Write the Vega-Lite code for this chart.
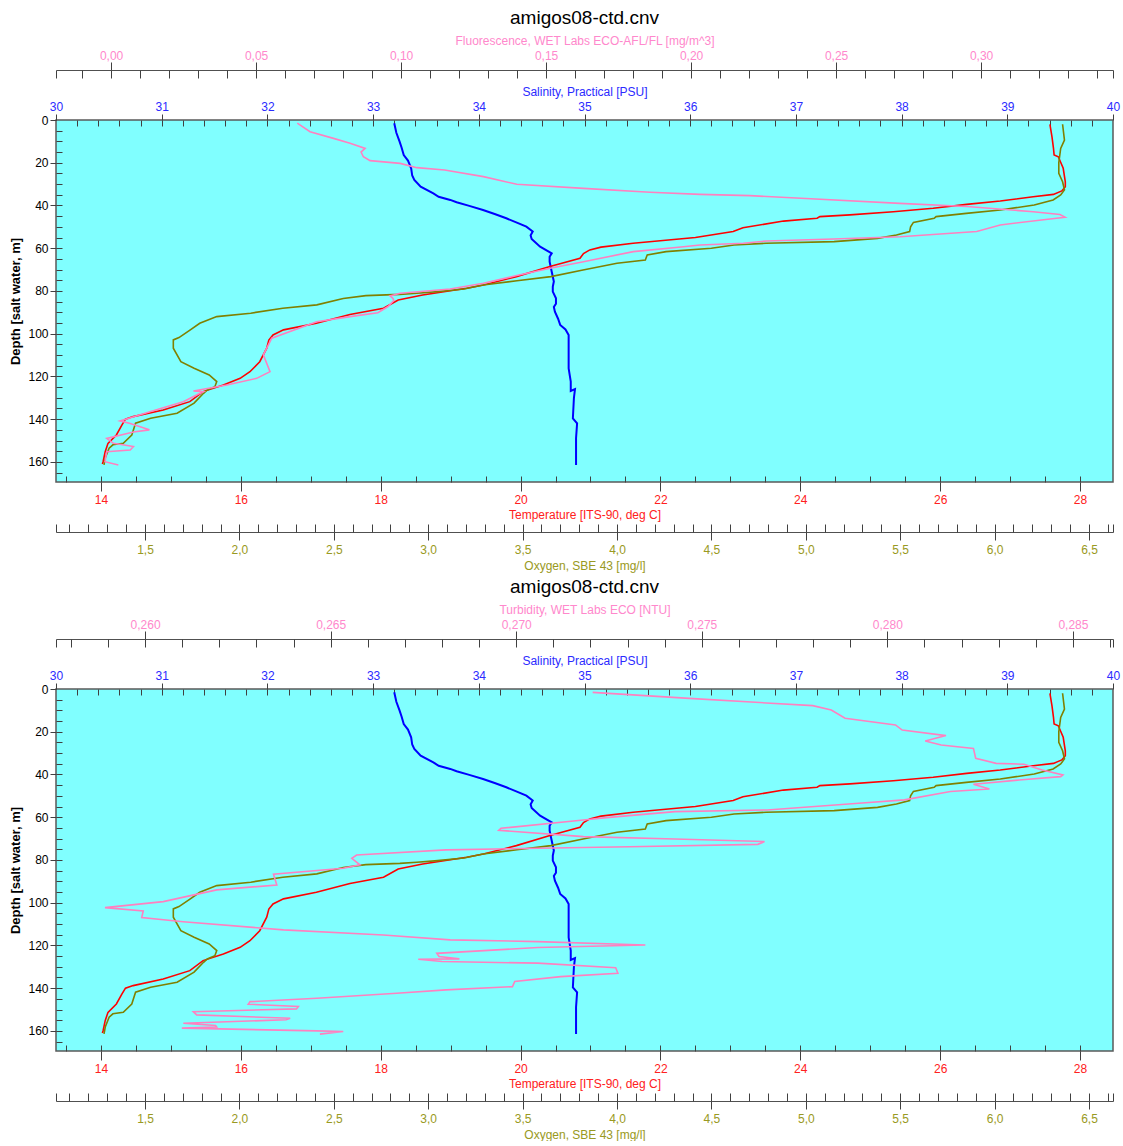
{
"$schema": "https://vega.github.io/schema/vega-lite/v6.json",
"padding": {"left": 9, "top": 8, "right": 5, "bottom": 0},
"spacing": 5,
"config": {
  "font": "Liberation Sans",
  "view": {"fill": "#80ffff", "stroke": "#5a5a5a", "strokeWidth": 1.5},
  "axis": {"grid": false, "labelFlush": false, "labelOverlap": false, "labelFont": "Liberation Sans", "titleFont": "Liberation Sans", "labelFontSize": 12, "titleFontSize": 12, "titleFontWeight": "normal", "tickColor": "#404040", "domainColor": "#505050", "tickWidth": 1, "domainWidth": 1.2},
  "title": {"font": "Liberation Sans", "fontSize": 19, "fontWeight": "normal", "color": "#000000", "offset": 6, "anchor": "middle"}
},
"datasets": {
  "sal": [
    {"i":0,"d":1.5,"v":33.20},{"i":1,"d":6,"v":33.22},{"i":2,"d":10,"v":33.25},{"i":3,"d":13,"v":33.27},{"i":4,"d":16.4,"v":33.29},{"i":5,"d":19,"v":33.33},{"i":6,"d":22.6,"v":33.36},{"i":7,"d":26,"v":33.37},{"i":8,"d":28,"v":33.39},{"i":9,"d":31.2,"v":33.45},{"i":10,"d":34.3,"v":33.57},{"i":11,"d":35.9,"v":33.62},{"i":12,"d":37.4,"v":33.73},{"i":13,"d":38.5,"v":33.79},{"i":14,"d":40.2,"v":33.91},{"i":15,"d":42.1,"v":34.04},{"i":16,"d":44,"v":34.15},{"i":17,"d":46,"v":34.26},{"i":18,"d":48,"v":34.36},{"i":19,"d":49.9,"v":34.45},{"i":20,"d":52.2,"v":34.51},{"i":21,"d":54,"v":34.49},{"i":22,"d":55.7,"v":34.50},{"i":23,"d":59.3,"v":34.58},{"i":24,"d":62.4,"v":34.69},{"i":25,"d":64,"v":34.67},{"i":26,"d":66.3,"v":34.67},{"i":27,"d":71,"v":34.69},{"i":28,"d":75.6,"v":34.71},{"i":29,"d":78,"v":34.70},{"i":30,"d":80.3,"v":34.70},{"i":31,"d":83.4,"v":34.73},{"i":32,"d":86,"v":34.73},{"i":33,"d":87.5,"v":34.71},{"i":34,"d":89.7,"v":34.72},{"i":35,"d":93,"v":34.75},{"i":36,"d":95.9,"v":34.77},{"i":37,"d":98,"v":34.82},{"i":38,"d":100.6,"v":34.85},{"i":39,"d":110,"v":34.85},{"i":40,"d":116.2,"v":34.85},{"i":41,"d":122.4,"v":34.87},{"i":42,"d":126.8,"v":34.87},{"i":43,"d":125.9,"v":34.91},{"i":44,"d":130,"v":34.90},{"i":45,"d":139.6,"v":34.89},{"i":46,"d":141.9,"v":34.93},{"i":47,"d":148.9,"v":34.92},{"i":48,"d":161.4,"v":34.92}
  ],
  "temp": [
    {"i":0,"d":2,"v":27.57},{"i":1,"d":8,"v":27.60},{"i":2,"d":13,"v":27.62},{"i":3,"d":16.4,"v":27.63},{"i":4,"d":17.2,"v":27.69},{"i":5,"d":22.6,"v":27.76},{"i":6,"d":28.9,"v":27.79},{"i":7,"d":31.2,"v":27.79},{"i":8,"d":33.2,"v":27.74},{"i":9,"d":34.8,"v":27.62},{"i":10,"d":35.9,"v":27.33},{"i":11,"d":37.9,"v":26.86},{"i":12,"d":39.5,"v":26.38},{"i":13,"d":41.3,"v":25.90},{"i":14,"d":42.9,"v":25.33},{"i":15,"d":44.4,"v":24.71},{"i":16,"d":45.2,"v":24.28},{"i":17,"d":46,"v":24.24},{"i":18,"d":47.3,"v":23.76},{"i":19,"d":50.4,"v":23.18},{"i":20,"d":52.2,"v":23.04},{"i":21,"d":55,"v":22.50},{"i":22,"d":57.7,"v":21.61},{"i":23,"d":59.5,"v":21.15},{"i":24,"d":60.8,"v":20.99},{"i":25,"d":62.5,"v":20.90},{"i":26,"d":64.7,"v":20.85},{"i":27,"d":68.6,"v":20.42},{"i":28,"d":73.3,"v":19.94},{"i":29,"d":77.2,"v":19.47},{"i":30,"d":78.7,"v":19.23},{"i":31,"d":81.9,"v":18.60},{"i":32,"d":84.2,"v":18.25},{"i":33,"d":88.1,"v":18.04},{"i":34,"d":91,"v":17.56},{"i":35,"d":95.1,"v":17.08},{"i":36,"d":98.2,"v":16.61},{"i":37,"d":100.6,"v":16.46},{"i":38,"d":103,"v":16.40},{"i":39,"d":106.8,"v":16.37},{"i":40,"d":113.1,"v":16.27},{"i":41,"d":117.8,"v":16.13},{"i":42,"d":120.9,"v":15.99},{"i":43,"d":124,"v":15.75},{"i":44,"d":127.1,"v":15.46},{"i":45,"d":131.8,"v":15.27},{"i":46,"d":135.7,"v":14.89},{"i":47,"d":138.8,"v":14.46},{"i":48,"d":140,"v":14.35},{"i":49,"d":142.7,"v":14.30},{"i":50,"d":147.4,"v":14.22},{"i":51,"d":151.3,"v":14.10},{"i":52,"d":155.2,"v":14.06},{"i":53,"d":159.9,"v":14.03},{"i":54,"d":161,"v":14.02}
  ],
  "oxy": [
    {"i":0,"d":2,"v":6.36},{"i":1,"d":9.4,"v":6.37},{"i":2,"d":13.3,"v":6.35},{"i":3,"d":20,"v":6.34},{"i":4,"d":24.9,"v":6.34},{"i":5,"d":28.9,"v":6.36},{"i":6,"d":32.7,"v":6.37},{"i":7,"d":35.1,"v":6.35},{"i":8,"d":37.4,"v":6.31},{"i":9,"d":39.8,"v":6.21},{"i":10,"d":42.1,"v":6.03},{"i":11,"d":43.7,"v":5.85},{"i":12,"d":45.2,"v":5.69},{"i":13,"d":46,"v":5.68},{"i":14,"d":47.9,"v":5.57},{"i":15,"d":50,"v":5.555},{"i":16,"d":52.2,"v":5.55},{"i":17,"d":53.8,"v":5.48},{"i":18,"d":55.4,"v":5.38},{"i":19,"d":56.9,"v":5.15},{"i":20,"d":57.7,"v":4.79},{"i":21,"d":58.5,"v":4.62},{"i":22,"d":60,"v":4.50},{"i":23,"d":61.6,"v":4.26},{"i":24,"d":63.2,"v":4.16},{"i":25,"d":65.5,"v":4.15},{"i":26,"d":67,"v":4.00},{"i":27,"d":70.2,"v":3.82},{"i":28,"d":73.3,"v":3.65},{"i":29,"d":75.2,"v":3.47},{"i":30,"d":77.2,"v":3.29},{"i":31,"d":79.1,"v":3.19},{"i":32,"d":80.3,"v":3.05},{"i":33,"d":81.1,"v":2.94},{"i":34,"d":81.6,"v":2.85},{"i":35,"d":82.2,"v":2.67},{"i":36,"d":83.5,"v":2.55},{"i":37,"d":86.5,"v":2.41},{"i":38,"d":88.1,"v":2.23},{"i":39,"d":90.4,"v":2.06},{"i":40,"d":92,"v":1.88},{"i":41,"d":95.1,"v":1.79},{"i":42,"d":98.2,"v":1.74},{"i":43,"d":101.8,"v":1.68},{"i":44,"d":102.9,"v":1.65},{"i":45,"d":106.8,"v":1.65},{"i":46,"d":113.1,"v":1.69},{"i":47,"d":116.2,"v":1.76},{"i":48,"d":119.3,"v":1.84},{"i":49,"d":122.4,"v":1.88},{"i":50,"d":124.8,"v":1.87},{"i":51,"d":126.3,"v":1.83},{"i":52,"d":127.9,"v":1.81},{"i":53,"d":132.5,"v":1.76},{"i":54,"d":137.2,"v":1.67},{"i":55,"d":139.6,"v":1.53},{"i":56,"d":141.9,"v":1.45},{"i":57,"d":147.4,"v":1.43},{"i":58,"d":151.3,"v":1.385},{"i":59,"d":152,"v":1.33},{"i":60,"d":153.6,"v":1.31},{"i":61,"d":158,"v":1.29},{"i":62,"d":161.4,"v":1.283}
  ],
  "fluor": [
    {"i":0,"d":1.5,"v":0.0642},{"i":1,"d":5.5,"v":0.0686},{"i":2,"d":8.6,"v":0.0767},{"i":3,"d":10.9,"v":0.0824},{"i":4,"d":13.3,"v":0.0876},{"i":5,"d":15,"v":0.0862},{"i":6,"d":17.2,"v":0.0870},{"i":7,"d":19,"v":0.0893},{"i":8,"d":20.3,"v":0.0997},{"i":9,"d":22.3,"v":0.1054},{"i":10,"d":23.4,"v":0.1150},{"i":11,"d":26.5,"v":0.1284},{"i":12,"d":30.1,"v":0.1399},{"i":13,"d":32,"v":0.1629},{"i":14,"d":33.8,"v":0.1859},{"i":15,"d":34.8,"v":0.2031},{"i":16,"d":35.4,"v":0.2203},{"i":17,"d":36.6,"v":0.2379},{"i":18,"d":39,"v":0.2720},{"i":19,"d":40.5,"v":0.2951},{"i":20,"d":42.9,"v":0.3180},{"i":21,"d":44.2,"v":0.3272},{"i":22,"d":45.5,"v":0.3290},{"i":23,"d":46.3,"v":0.3238},{"i":24,"d":49.1,"v":0.3066},{"i":25,"d":52.2,"v":0.2985},{"i":26,"d":54.6,"v":0.2721},{"i":27,"d":55.7,"v":0.2490},{"i":28,"d":56.6,"v":0.2261},{"i":29,"d":57.7,"v":0.2180},{"i":30,"d":58.5,"v":0.2031},{"i":31,"d":59.3,"v":0.1974},{"i":32,"d":61.6,"v":0.1801},{"i":33,"d":66.3,"v":0.1629},{"i":34,"d":69.4,"v":0.1514},{"i":35,"d":72.8,"v":0.1399},{"i":36,"d":76.4,"v":0.1284},{"i":37,"d":79.1,"v":0.1169},{"i":38,"d":81.1,"v":0.0997},{"i":39,"d":82.3,"v":0.0962},{"i":40,"d":83.5,"v":0.0972},{"i":41,"d":84.5,"v":0.0975},{"i":42,"d":87.3,"v":0.0955},{"i":43,"d":90.2,"v":0.0920},{"i":44,"d":92,"v":0.0824},{"i":45,"d":94.4,"v":0.0709},{"i":46,"d":102.1,"v":0.0554},{"i":47,"d":109.9,"v":0.0525},{"i":48,"d":117.8,"v":0.0548},{"i":49,"d":120.9,"v":0.0502},{"i":50,"d":124,"v":0.0399},{"i":51,"d":126.8,"v":0.0284},{"i":52,"d":127.2,"v":0.0318},{"i":53,"d":128.3,"v":0.0300},{"i":54,"d":131.8,"v":0.0249},{"i":55,"d":136.5,"v":0.0134},{"i":56,"d":140.8,"v":0.0031},{"i":57,"d":142,"v":0.0066},{"i":58,"d":145,"v":0.0132},{"i":59,"d":146,"v":0.0077},{"i":60,"d":149,"v":-0.0015},{"i":61,"d":151.3,"v":0.0008},{"i":62,"d":152.8,"v":0.0077},{"i":63,"d":154.4,"v":0.0066},{"i":64,"d":155.2,"v":-0.0015},{"i":65,"d":159.9,"v":-0.0021},{"i":66,"d":161.4,"v":0.0025}
  ],
  "turb": [
    {"i":0,"d":1.6,"v":0.27206},{"i":1,"d":4.4,"v":0.27466},{"i":2,"d":7.8,"v":0.27799},{"i":3,"d":9.8,"v":0.27849},{"i":4,"d":13.7,"v":0.27886},{"i":5,"d":16.8,"v":0.28022},{"i":6,"d":19.2,"v":0.28040},{"i":7,"d":21.8,"v":0.28158},{"i":8,"d":24.3,"v":0.28102},{"i":9,"d":26.2,"v":0.28145},{"i":10,"d":27.8,"v":0.28232},{"i":11,"d":32.4,"v":0.28238},{"i":12,"d":34.8,"v":0.28293},{"i":13,"d":35.2,"v":0.28368},{"i":14,"d":37.9,"v":0.28417},{"i":15,"d":40.2,"v":0.28473},{"i":16,"d":41,"v":0.28467},{"i":17,"d":42.6,"v":0.28355},{"i":18,"d":44.6,"v":0.28232},{"i":19,"d":46.8,"v":0.28275},{"i":20,"d":48,"v":0.28170},{"i":21,"d":51.9,"v":0.28046},{"i":22,"d":53.5,"v":0.27923},{"i":23,"d":56.6,"v":0.27676},{"i":24,"d":57.4,"v":0.27428},{"i":25,"d":60.2,"v":0.27243},{"i":26,"d":61.3,"v":0.27181},{"i":27,"d":65.2,"v":0.26959},{"i":28,"d":66.1,"v":0.26953},{"i":29,"d":69.1,"v":0.27181},{"i":30,"d":70.2,"v":0.27428},{"i":31,"d":71.4,"v":0.27669},{"i":32,"d":72.7,"v":0.27651},{"i":33,"d":73.8,"v":0.27305},{"i":34,"d":74.5,"v":0.27058},{"i":35,"d":75.3,"v":0.26811},{"i":36,"d":77.7,"v":0.26570},{"i":37,"d":79.2,"v":0.26557},{"i":38,"d":82.3,"v":0.26579},{"i":39,"d":83.9,"v":0.26534},{"i":40,"d":86.7,"v":0.26346},{"i":41,"d":91.7,"v":0.26355},{"i":42,"d":94,"v":0.26193},{"i":43,"d":99.5,"v":0.26049},{"i":44,"d":102.3,"v":0.25892},{"i":45,"d":103.9,"v":0.25995},{"i":46,"d":107,"v":0.25991},{"i":47,"d":108.9,"v":0.26103},{"i":48,"d":112.7,"v":0.26373},{"i":49,"d":115.1,"v":0.26642},{"i":50,"d":117.4,"v":0.26822},{"i":51,"d":118.2,"v":0.27058},{"i":52,"d":119.8,"v":0.27348},{"i":53,"d":121,"v":0.27058},{"i":54,"d":123.7,"v":0.26786},{"i":55,"d":125.2,"v":0.26792},{"i":56,"d":126.3,"v":0.26847},{"i":57,"d":126.5,"v":0.26736},{"i":58,"d":127.5,"v":0.26800},{"i":59,"d":128.3,"v":0.27058},{"i":60,"d":130.4,"v":0.27268},{"i":61,"d":133,"v":0.27274},{"i":62,"d":134.6,"v":0.27120},{"i":63,"d":136.9,"v":0.26996},{"i":64,"d":139.3,"v":0.26990},{"i":65,"d":140.8,"v":0.26811},{"i":66,"d":142.4,"v":0.26678},{"i":67,"d":144.7,"v":0.26463},{"i":68,"d":146.3,"v":0.26283},{"i":69,"d":147.5,"v":0.26278},{"i":70,"d":148.6,"v":0.26413},{"i":71,"d":149.7,"v":0.26408},{"i":72,"d":151,"v":0.26130},{"i":73,"d":152.5,"v":0.26139},{"i":74,"d":154.1,"v":0.26391},{"i":75,"d":154.8,"v":0.26380},{"i":76,"d":156.4,"v":0.26103},{"i":77,"d":157.5,"v":0.26190},{"i":78,"d":158.2,"v":0.26193},{"i":79,"d":158.7,"v":0.26099},{"i":80,"d":160,"v":0.26463},{"i":81,"d":160.3,"v":0.26534},{"i":82,"d":161.5,"v":0.26471}
  ]
},
"vconcat": [
{
  "title": "amigos08-ctd.cnv",
  "width": 1057, "height": 362,
  "resolve": {"scale": {"x": "independent"}, "axis": {"x": "independent", "y": "independent"}},
  "layer": [
    {"resolve": {"axis": {"x": "independent", "y": "independent"}},
     "layer": [
      {"data": {"name": "sal"}, "mark": {"type": "line", "color": "#0000ff", "strokeWidth": 2},
       "encoding": {
        "x": {"field": "v", "type": "quantitative", "scale": {"domain": [30, 40], "nice": false, "zero": false},
              "axis": {"orient": "top", "values": [30,31,32,33,34,35,36,37,38,39,40], "tickSize": 6, "labelPadding": 1, "labelColor": "#2b2bff", "domain": false, "title": "Salinity, Practical [PSU]", "titleColor": "#2b2bff", "titlePadding": 2}},
        "y": {"field": "d", "type": "quantitative", "scale": {"domain": [0, 169.4], "reverse": true, "nice": false, "zero": false},
              "axis": {"orient": "left", "values": [0,20,40,60,80,100,120,140,160], "tickSize": 6, "labelPadding": 2, "domain": false, "labelColor": "#000000", "title": "Depth [salt water, m]", "titleFontWeight": "bold", "titleFontSize": 13, "titleColor": "#000000", "titlePadding": 5}},
        "order": {"field": "i", "type": "quantitative"}}},
      {"data": {"name": "sal"}, "mark": {"type": "point", "opacity": 0},
       "encoding": {
        "x": {"field": "v", "type": "quantitative", "scale": {"domain": [30, 40], "nice": false, "zero": false},
              "axis": {"orient": "top", "offset": -6, "values": [30.2,30.4,30.6,30.8,31,31.2,31.4,31.6,31.8,32,32.2,32.4,32.6,32.8,33,33.2,33.4,33.6,33.8,34,34.2,34.4,34.6,34.8,35,35.2,35.4,35.6,35.8,36,36.2,36.4,36.6,36.8,37,37.2,37.4,37.6,37.8,38,38.2,38.4,38.6,38.8,39,39.2,39.4,39.6,39.8], "tickSize": 6, "labels": false, "domain": false, "title": null}},
        "y": {"field": "d", "type": "quantitative", "scale": {"domain": [0, 169.4], "reverse": true, "nice": false, "zero": false},
              "axis": {"orient": "left", "offset": -6, "values": [5,10,15,20,25,30,35,40,45,50,55,60,65,70,75,80,85,90,95,100,105,110,115,120,125,130,135,140,145,150,155,160,165], "tickSize": 6, "labels": false, "domain": false, "title": null}}}}
     ]},
    {"resolve": {"axis": {"x": "independent"}},
     "layer": [
      {"data": {"name": "temp"}, "mark": {"type": "line", "color": "#ff0000", "strokeWidth": 1.6},
       "encoding": {
        "x": {"field": "v", "type": "quantitative", "scale": {"domain": [13.3565, 28.472], "nice": false, "zero": false},
              "axis": {"orient": "bottom", "values": [14,16,18,20,22,24,26,28], "tickSize": 9, "labelPadding": 3, "labelColor": "#ff2020", "domain": false, "title": "Temperature [ITS-90, deg C]", "titleColor": "#ff2020", "titlePadding": 4}},
        "y": {"field": "d", "type": "quantitative", "axis": null},
        "order": {"field": "i", "type": "quantitative"}}},
      {"data": {"name": "temp"}, "mark": {"type": "point", "opacity": 0},
       "encoding": {
        "x": {"field": "v", "type": "quantitative", "scale": {"domain": [13.3565, 28.472], "nice": false, "zero": false},
              "axis": {"orient": "bottom", "offset": -6, "values": [13.5,14,14.5,15,15.5,16,16.5,17,17.5,18,18.5,19,19.5,20,20.5,21,21.5,22,22.5,23,23.5,24,24.5,25,25.5,26,26.5,27,27.5,28], "tickSize": 6, "labels": false, "domain": false, "title": null}},
        "y": {"field": "d", "type": "quantitative", "axis": null}}}
     ]},
    {"resolve": {"axis": {"x": "independent"}},
     "layer": [
      {"data": {"name": "oxy"}, "mark": {"type": "line", "color": "#808000", "strokeWidth": 1.6},
       "encoding": {
        "x": {"field": "v", "type": "quantitative", "scale": {"domain": [1.0286, 6.6271], "nice": false, "zero": false},
              "axis": {"orient": "bottom", "offset": 50, "values": [1.5,2,2.5,3,3.5,4,4.5,5,5.5,6,6.5], "tickSize": 8, "labelPadding": 4, "labelExpr": "replace(format(datum.value, '.1f'), '.', ',')", "labelColor": "#999922", "domain": true, "title": "Oxygen, SBE 43 [mg/l]", "titleColor": "#999922", "titlePadding": 5}},
        "y": {"field": "d", "type": "quantitative", "axis": null},
        "order": {"field": "i", "type": "quantitative"}}},
      {"data": {"name": "oxy"}, "mark": {"type": "point", "opacity": 0},
       "encoding": {
        "x": {"field": "v", "type": "quantitative", "scale": {"domain": [1.0286, 6.6271], "nice": false, "zero": false},
              "axis": {"orient": "bottom", "offset": 42, "values": [1.0286,1.1,1.2,1.3,1.4,1.5,1.6,1.7,1.8,1.9,2,2.1,2.2,2.3,2.4,2.5,2.6,2.7,2.8,2.9,3,3.1,3.2,3.3,3.4,3.5,3.6,3.7,3.8,3.9,4,4.1,4.2,4.3,4.4,4.5,4.6,4.7,4.8,4.9,5,5.1,5.2,5.3,5.4,5.5,5.6,5.7,5.8,5.9,6,6.1,6.2,6.3,6.4,6.5,6.6,6.6271], "tickSize": 8, "labels": false, "domain": false, "title": null}},
        "y": {"field": "d", "type": "quantitative", "axis": null}}}
     ]},
    {"resolve": {"axis": {"x": "independent"}},
     "layer": [
      {"data": {"name": "fluor"}, "mark": {"type": "line", "color": "#ff80c0", "strokeWidth": 1.6},
       "encoding": {
        "x": {"field": "v", "type": "quantitative", "scale": {"domain": [-0.019, 0.3455], "nice": false, "zero": false},
              "axis": {"orient": "top", "offset": 50, "values": [0,0.05,0.1,0.15,0.2,0.25,0.3], "tickSize": 8, "labelPadding": 0, "labelExpr": "replace(format(datum.value, '.2f'), '.', ',')", "labelColor": "#ff88cc", "domain": true, "title": "Fluorescence, WET Labs ECO-AFL/FL [mg/m^3]", "titleColor": "#ff88cc", "titlePadding": 2}},
        "y": {"field": "d", "type": "quantitative", "axis": null},
        "order": {"field": "i", "type": "quantitative"}}},
      {"data": {"name": "fluor"}, "mark": {"type": "point", "opacity": 0},
       "encoding": {
        "x": {"field": "v", "type": "quantitative", "scale": {"domain": [-0.019, 0.3455], "nice": false, "zero": false},
              "axis": {"orient": "top", "offset": 42, "values": [-0.019,-0.01,0,0.01,0.02,0.03,0.04,0.05,0.06,0.07,0.08,0.09,0.1,0.11,0.12,0.13,0.14,0.15,0.16,0.17,0.18,0.19,0.2,0.21,0.22,0.23,0.24,0.25,0.26,0.27,0.28,0.29,0.3,0.31,0.32,0.33,0.34,0.3455], "tickSize": 8, "labels": false, "domain": false, "title": null}},
        "y": {"field": "d", "type": "quantitative", "axis": null}}}
     ]}
  ]
},
{
  "title": "amigos08-ctd.cnv",
  "width": 1057, "height": 362,
  "resolve": {"scale": {"x": "independent"}, "axis": {"x": "independent", "y": "independent"}},
  "layer": [
    {"resolve": {"axis": {"x": "independent", "y": "independent"}},
     "layer": [
      {"data": {"name": "sal"}, "mark": {"type": "line", "color": "#0000ff", "strokeWidth": 2},
       "encoding": {
        "x": {"field": "v", "type": "quantitative", "scale": {"domain": [30, 40], "nice": false, "zero": false},
              "axis": {"orient": "top", "values": [30,31,32,33,34,35,36,37,38,39,40], "tickSize": 6, "labelPadding": 1, "labelColor": "#2b2bff", "domain": false, "title": "Salinity, Practical [PSU]", "titleColor": "#2b2bff", "titlePadding": 2}},
        "y": {"field": "d", "type": "quantitative", "scale": {"domain": [0, 169.4], "reverse": true, "nice": false, "zero": false},
              "axis": {"orient": "left", "values": [0,20,40,60,80,100,120,140,160], "tickSize": 6, "labelPadding": 2, "domain": false, "labelColor": "#000000", "title": "Depth [salt water, m]", "titleFontWeight": "bold", "titleFontSize": 13, "titleColor": "#000000", "titlePadding": 5}},
        "order": {"field": "i", "type": "quantitative"}}},
      {"data": {"name": "sal"}, "mark": {"type": "point", "opacity": 0},
       "encoding": {
        "x": {"field": "v", "type": "quantitative", "scale": {"domain": [30, 40], "nice": false, "zero": false},
              "axis": {"orient": "top", "offset": -6, "values": [30.2,30.4,30.6,30.8,31,31.2,31.4,31.6,31.8,32,32.2,32.4,32.6,32.8,33,33.2,33.4,33.6,33.8,34,34.2,34.4,34.6,34.8,35,35.2,35.4,35.6,35.8,36,36.2,36.4,36.6,36.8,37,37.2,37.4,37.6,37.8,38,38.2,38.4,38.6,38.8,39,39.2,39.4,39.6,39.8], "tickSize": 6, "labels": false, "domain": false, "title": null}},
        "y": {"field": "d", "type": "quantitative", "scale": {"domain": [0, 169.4], "reverse": true, "nice": false, "zero": false},
              "axis": {"orient": "left", "offset": -6, "values": [5,10,15,20,25,30,35,40,45,50,55,60,65,70,75,80,85,90,95,100,105,110,115,120,125,130,135,140,145,150,155,160,165], "tickSize": 6, "labels": false, "domain": false, "title": null}}}}
     ]},
    {"resolve": {"axis": {"x": "independent"}},
     "layer": [
      {"data": {"name": "temp"}, "mark": {"type": "line", "color": "#ff0000", "strokeWidth": 1.6},
       "encoding": {
        "x": {"field": "v", "type": "quantitative", "scale": {"domain": [13.3565, 28.472], "nice": false, "zero": false},
              "axis": {"orient": "bottom", "values": [14,16,18,20,22,24,26,28], "tickSize": 9, "labelPadding": 3, "labelColor": "#ff2020", "domain": false, "title": "Temperature [ITS-90, deg C]", "titleColor": "#ff2020", "titlePadding": 4}},
        "y": {"field": "d", "type": "quantitative", "axis": null},
        "order": {"field": "i", "type": "quantitative"}}},
      {"data": {"name": "temp"}, "mark": {"type": "point", "opacity": 0},
       "encoding": {
        "x": {"field": "v", "type": "quantitative", "scale": {"domain": [13.3565, 28.472], "nice": false, "zero": false},
              "axis": {"orient": "bottom", "offset": -6, "values": [13.5,14,14.5,15,15.5,16,16.5,17,17.5,18,18.5,19,19.5,20,20.5,21,21.5,22,22.5,23,23.5,24,24.5,25,25.5,26,26.5,27,27.5,28], "tickSize": 6, "labels": false, "domain": false, "title": null}},
        "y": {"field": "d", "type": "quantitative", "axis": null}}}
     ]},
    {"resolve": {"axis": {"x": "independent"}},
     "layer": [
      {"data": {"name": "oxy"}, "mark": {"type": "line", "color": "#808000", "strokeWidth": 1.6},
       "encoding": {
        "x": {"field": "v", "type": "quantitative", "scale": {"domain": [1.0286, 6.6271], "nice": false, "zero": false},
              "axis": {"orient": "bottom", "offset": 50, "values": [1.5,2,2.5,3,3.5,4,4.5,5,5.5,6,6.5], "tickSize": 8, "labelPadding": 4, "labelExpr": "replace(format(datum.value, '.1f'), '.', ',')", "labelColor": "#999922", "domain": true, "title": "Oxygen, SBE 43 [mg/l]", "titleColor": "#999922", "titlePadding": 5}},
        "y": {"field": "d", "type": "quantitative", "axis": null},
        "order": {"field": "i", "type": "quantitative"}}},
      {"data": {"name": "oxy"}, "mark": {"type": "point", "opacity": 0},
       "encoding": {
        "x": {"field": "v", "type": "quantitative", "scale": {"domain": [1.0286, 6.6271], "nice": false, "zero": false},
              "axis": {"orient": "bottom", "offset": 42, "values": [1.0286,1.1,1.2,1.3,1.4,1.5,1.6,1.7,1.8,1.9,2,2.1,2.2,2.3,2.4,2.5,2.6,2.7,2.8,2.9,3,3.1,3.2,3.3,3.4,3.5,3.6,3.7,3.8,3.9,4,4.1,4.2,4.3,4.4,4.5,4.6,4.7,4.8,4.9,5,5.1,5.2,5.3,5.4,5.5,5.6,5.7,5.8,5.9,6,6.1,6.2,6.3,6.4,6.5,6.6,6.6271], "tickSize": 8, "labels": false, "domain": false, "title": null}},
        "y": {"field": "d", "type": "quantitative", "axis": null}}}
     ]},
    {"resolve": {"axis": {"x": "independent"}},
     "layer": [
      {"data": {"name": "turb"}, "mark": {"type": "line", "color": "#ff80c0", "strokeWidth": 1.6},
       "encoding": {
        "x": {"field": "v", "type": "quantitative", "scale": {"domain": [0.2576, 0.28608], "nice": false, "zero": false},
              "axis": {"orient": "top", "offset": 50, "values": [0.26,0.265,0.27,0.275,0.28,0.285], "tickSize": 8, "labelPadding": 0, "labelExpr": "replace(format(datum.value, '.3f'), '.', ',')", "labelColor": "#ff88cc", "domain": true, "title": "Turbidity, WET Labs ECO [NTU]", "titleColor": "#ff88cc", "titlePadding": 2}},
        "y": {"field": "d", "type": "quantitative", "axis": null},
        "order": {"field": "i", "type": "quantitative"}}},
      {"data": {"name": "turb"}, "mark": {"type": "point", "opacity": 0},
       "encoding": {
        "x": {"field": "v", "type": "quantitative", "scale": {"domain": [0.2576, 0.28608], "nice": false, "zero": false},
              "axis": {"orient": "top", "offset": 42, "values": [0.2576,0.258,0.259,0.26,0.261,0.262,0.263,0.264,0.265,0.266,0.267,0.268,0.269,0.27,0.271,0.272,0.273,0.274,0.275,0.276,0.277,0.278,0.279,0.28,0.281,0.282,0.283,0.284,0.285,0.286,0.28608], "tickSize": 8, "labels": false, "domain": false, "title": null}},
        "y": {"field": "d", "type": "quantitative", "axis": null}}}
     ]}
  ]
}
]
}
